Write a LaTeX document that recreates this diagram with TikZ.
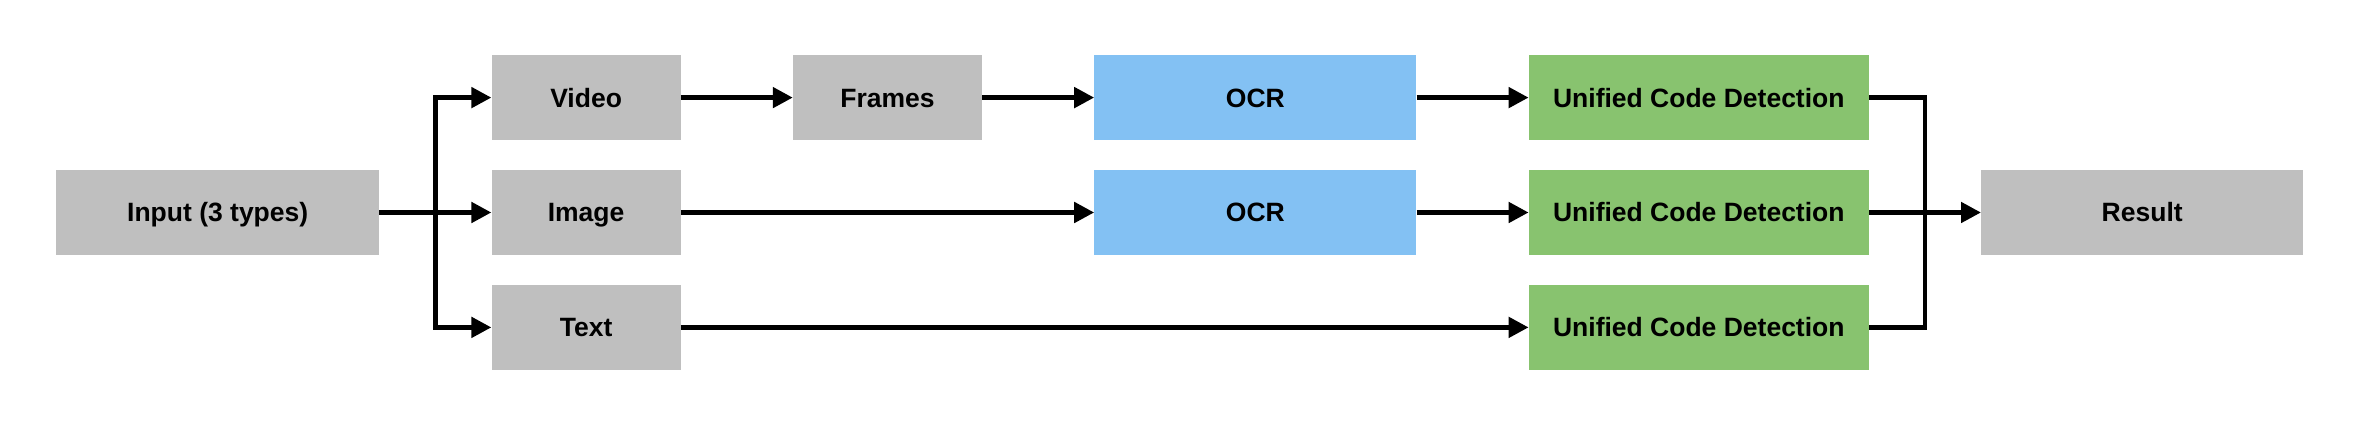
\documentclass[tikz,border=0pt]{standalone}
\usepackage{fontspec}
\setmainfont{Liberation Sans}
\usetikzlibrary{positioning,arrows.meta,calc}
\definecolor{boxgray}{RGB}{191,191,191}
\definecolor{ocrblue}{RGB}{131,193,243}
\definecolor{detgreen}{RGB}{136,195,111}

\begin{document}
\begin{tikzpicture}[x=1pt,y=1pt,node distance=112pt,
                    box/.style={rectangle,fill=boxgray,minimum height=85pt,inner sep=0pt,
                                text height=19pt,text depth=0pt,
                                font=\fontsize{26.5}{30}\selectfont\bfseries},
                    small box/.style={box,minimum width=189pt},
                    wide box/.style={box,minimum width=322pt},
                    ocr box/.style={wide box,fill=ocrblue},
                    det box/.style={box,minimum width=340pt,fill=detgreen},
                    conn/.style={line width=4.8pt,-{Triangle[length=20pt,width=20pt]}},
                    line/.style={line width=4.8pt}]
  \useasboundingbox (0,0) rectangle (2356,427);

  % inputs
  \node[wide box,minimum width=323pt,anchor=west] (input) at (56,214.5) {Input (3 types)};
  \node[small box] (image) [right=of input] {Image};
  \node[small box] (video) [above=29.5pt of image] {Video};
  \node[small box] (text) [below=29.5pt of image] {Text};

  % processing
  \node[small box] (frames) [right=of video] {Frames};
  \node[ocr box] (ocr1) [right=of frames] {OCR};
  \node[ocr box] (ocr2) [below=29.5pt of ocr1] {OCR};
  \node[det box] (det1) [right=of ocr1] {Unified Code Detection};
  \node[det box] (det2) [right=of ocr2] {Unified Code Detection};
  \node[det box] (det3) [below=29.5pt of det2] {Unified Code Detection};
  \node[wide box] (result) [right=of det2] {Result};

  \coordinate (split) at ($(input.east)!0.5!(image.west)$);
  \coordinate (merge) at ($(det2.east)!0.5!(result.west)$);

  % connectors
  \draw[conn] (input) -- (image);
  \draw[conn] (split) |- (video);
  \draw[conn] (split) |- (text);
  \draw[conn] (video) -- (frames);
  \draw[conn] (frames) -- (ocr1);
  \draw[conn] (image) -- (ocr2);
  \draw[conn] (ocr1) -- (det1);
  \draw[conn] (ocr2) -- (det2);
  \draw[conn] (text) -- (det3);
  \draw[line] (det1.east) -| (merge) |- (det3.east);
  \draw[conn] (det2) -- (result);
\end{tikzpicture}
\end{document}
